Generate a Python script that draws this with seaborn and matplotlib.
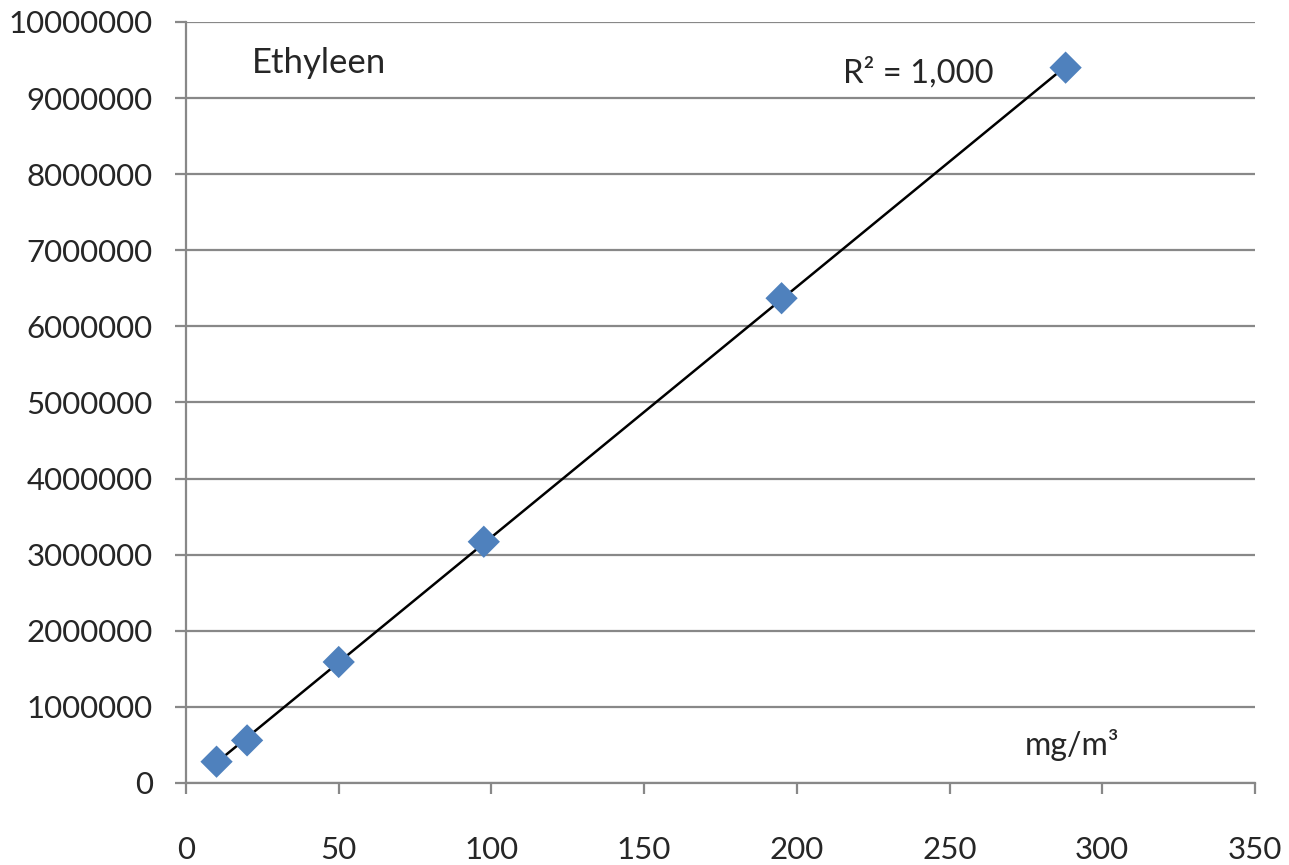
import numpy as np
import pandas as pd
import matplotlib
matplotlib.use('Agg')
import matplotlib.pyplot as plt
import seaborn as sns

# calibration points for ethylene (mg/m3 vs. peak area)
conc = [10, 20, 50, 97.5, 195, 288]
area = [280000, 560000, 1590000, 3170000, 6370000, 9400000]
x_ticks = [0, 50, 100, 150, 200, 250, 300, 350]
y_ticks = [0, 1000000, 2000000, 3000000, 4000000, 5000000,
           6000000, 7000000, 8000000, 9000000, 10000000]

df = pd.DataFrame({'conc': conc, 'area': area})

sns.set_style('white')
plt.rcParams['font.family'] = ['Lato', 'DejaVu Sans']
grey = '#888888'

fig = plt.figure(figsize=(12.89, 8.65), dpi=100)
ax = fig.add_axes([0.1443, 0.0948, 0.8293, 0.8798])

# linear trendline
slope, intercept = np.polyfit(df['conc'], df['area'], 1)
fit = slope * df['conc'] + intercept
r2 = 1 - ((df['area'] - fit) ** 2).sum() / ((df['area'] - df['area'].mean()) ** 2).sum()
xl = np.array([df['conc'].min(), df['conc'].max()])
ax.plot(xl, slope * xl + intercept, color='black', lw=1.8, zorder=2)

sns.scatterplot(data=df, x='conc', y='area', marker='D', s=270,
                color='#4F81BD', edgecolor='none', ax=ax, zorder=3)

ax.set_xlim(0, 350)
ax.set_ylim(0, 10000000)
ax.set_xticks(x_ticks)
ax.set_yticks(y_ticks)
ax.set_xticklabels([str(v) for v in x_ticks])
ax.set_yticklabels([str(v) for v in y_ticks])
ax.set_xlabel('')
ax.set_ylabel('')

ax.yaxis.grid(True, color=grey, lw=1.6)
ax.xaxis.grid(False)
for s in ['top', 'right']:
    ax.spines[s].set_visible(False)
for s in ['left', 'bottom']:
    ax.spines[s].set_color(grey)
    ax.spines[s].set_linewidth(1.6)

ax.tick_params(axis='x', direction='out', length=8, width=1.6, color=grey,
               pad=30, labelsize=22.5, bottom=True)
ax.tick_params(axis='y', direction='out', length=8, width=1.6, color=grey,
               pad=16, labelsize=22.5, left=True)

ax.text(0.062, 0.946, 'Ethyleen', transform=ax.transAxes, fontsize=25,
        va='center', ha='left')
ax.text(0.615, 0.933, 'R² = ' + f'{r2:.3f}'.replace('.', ','),
        transform=ax.transAxes, fontsize=23.5, va='center', ha='left')
ax.text(0.785, 0.05, 'mg/m³', transform=ax.transAxes, fontsize=23,
        va='center', ha='left')

fig.savefig('out.png', dpi=100)
